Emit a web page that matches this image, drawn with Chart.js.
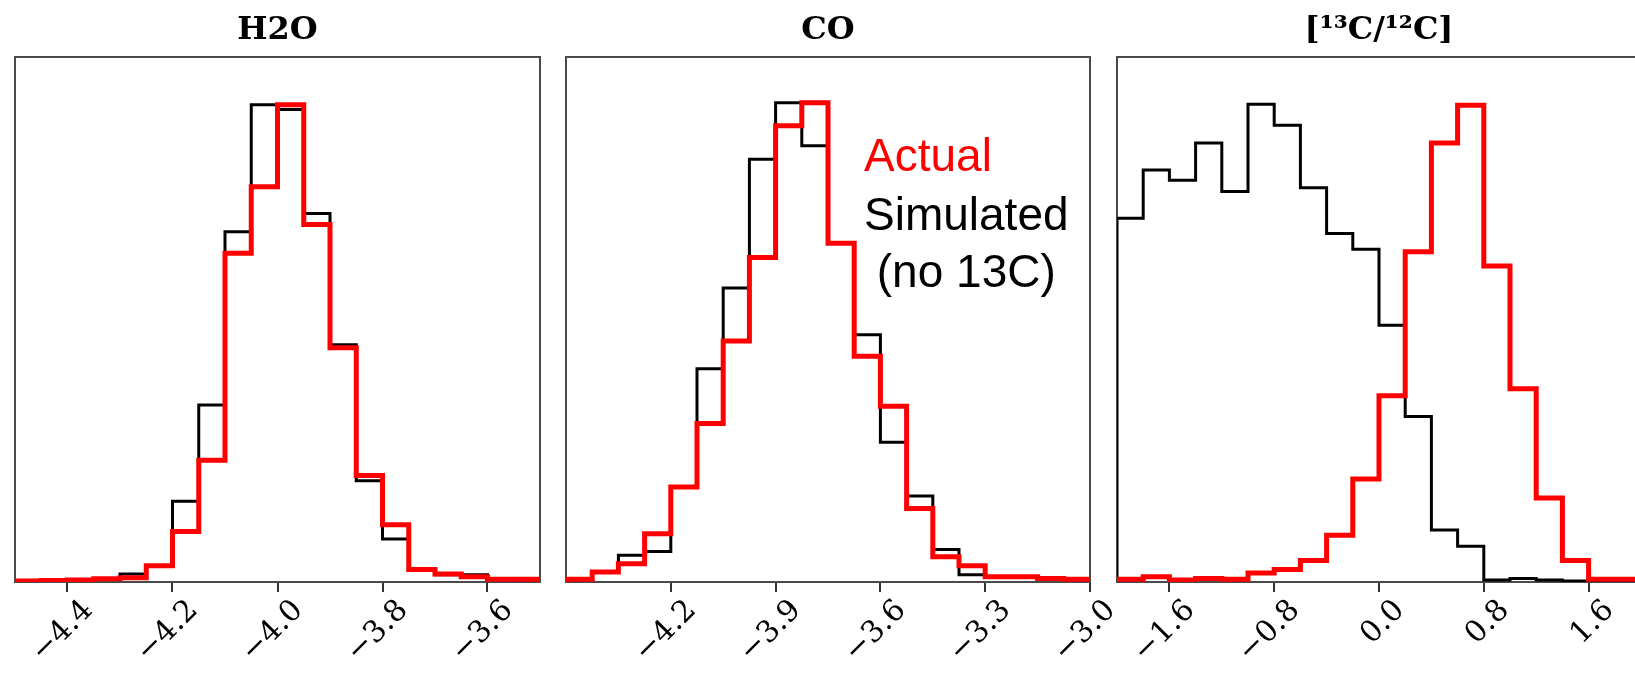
<!DOCTYPE html>
<html><head><meta charset="utf-8">
<script src="https://cdn.jsdelivr.net/npm/chart.js@4"></script>
<style>
html,body{margin:0;padding:0;background:#fff;overflow:hidden;width:1635px;height:679px;position:relative;}
canvas{position:absolute;top:0;}
</style></head><body>
<canvas id="c1" width="580" height="679" style="left:0px"></canvas>
<canvas id="c2" width="600" height="679" style="left:540px"></canvas>
<canvas id="c3" width="560" height="679" style="left:1090px"></canvas>
<script>
// ---- Panel titles ----
const panelTitles = ['H2O', 'CO', '[\u00B9\u00B3C/\u00B9\u00B2C]'];

// ---- H2O panel ----
const h2oEdges = [-4.5, -4.45, -4.4, -4.35, -4.3, -4.25, -4.2, -4.15, -4.1, -4.05, -4.0, -3.95, -3.9, -3.85, -3.8, -3.75, -3.7, -3.65, -3.6, -3.55, -3.5];
const h2oActual    = [0.2, 0.3, 0.4, 0.7, 0.9, 3.4, 10.6, 25.5, 68.9, 82.8, 100, 74.9, 49.1, 22.3, 12.0, 2.6, 1.7, 1.1, 0.6, 0.6];
const h2oSimulated = [0.2, 0.3, 0.4, 0.7, 1.7, 3.4, 16.9, 37.1, 73.4, 100, 99, 77.2, 49.7, 21.2, 9.0, 2.6, 1.5, 1.5, 0.6, 0.4];
const h2oTicks = [-4.4, -4.2, -4.0, -3.8, -3.6];
const h2oTickLabels = ['\u22124.4', '\u22124.2', '\u22124.0', '\u22123.8', '\u22123.6'];

// ---- CO panel ----
const coEdges = [-4.5, -4.425, -4.35, -4.275, -4.2, -4.125, -4.05, -3.975, -3.9, -3.825, -3.75, -3.675, -3.6, -3.525, -3.45, -3.375, -3.3, -3.225, -3.15, -3.075, -3.0];
const coActual    = [0.6, 2.1, 3.8, 10.1, 19.9, 33.2, 50.5, 68.0, 95.6, 100.4, 71.0, 47.3, 36.8, 15.4, 5.3, 3.4, 1.1, 1.1, 0.75, 0.6];
const coSimulated = [0.6, 2.1, 5.6, 6.4, 19.9, 44.7, 61.6, 88.6, 100.4, 91.4, 71.0, 51.8, 29.3, 18.0, 6.8, 1.5, 1.1, 1.1, 0.75, 0.6];
const coTicks = [-4.2, -3.9, -3.6, -3.3, -3.0];
const coTickLabels = ['\u22124.2', '\u22123.9', '\u22123.6', '\u22123.3', '\u22123.0'];

// ---- 13C/12C panel ----
const cEdges = [-2.0, -1.8, -1.6, -1.4, -1.2, -1.0, -0.8, -0.6, -0.4, -0.2, 0.0, 0.2, 0.4, 0.6, 0.8, 1.0, 1.2, 1.4, 1.6, 1.8, 2.0];
const cActual    = [0.6, 1.1, 0.4, 0.75, 0.6, 1.9, 2.6, 4.5, 9.8, 21.6, 39.0, 69.2, 92.0, 99.9, 66.2, 40.5, 17.6, 4.5, 0.6, 0.6];
const cSimulated = [76.2, 86.3, 84.2, 92.0, 81.8, 100.1, 95.7, 82.6, 73.0, 69.7, 53.8, 34.7, 10.9, 7.5, 0.4, 0.75, 0.4, 0.2, 0.2, 0.2];
const cTicks = [-1.6, -0.8, 0.0, 0.8, 1.6];
const cTickLabels = ['\u22121.6', '\u22120.8', '0.0', '0.8', '1.6'];

const yMax = 110;

const legendLines = [
  {text: 'Actual', color: '#ff0000'},
  {text: 'Simulated', color: '#000000'},
  {text: ' (no 13C)', color: '#000000'}
];

function stepPoints(edges, values) {
  const pts = [{x: edges[0], y: 0}];
  values.forEach((v, i) => pts.push({x: edges[i], y: v}));
  pts.push({x: edges[edges.length - 1], y: 0});
  return pts;
}

const framePlugin = {
  id: 'frame',
  beforeDatasetsDraw(chart) {
    const {ctx, chartArea: {left, top, right, bottom}} = chart;
    ctx.save();
    ctx.strokeStyle = '#4a4a4a';
    ctx.lineWidth = 2;
    ctx.strokeRect(left, top, right - left, bottom - top);
    ctx.restore();
  }
};

const legendPlugin = {
  id: 'textLegend',
  afterDatasetsDraw(chart) {
    const {ctx, chartArea: {left, top}} = chart;
    ctx.save();
    ctx.font = '46px "Liberation Sans", Arial, sans-serif';
    ctx.textAlign = 'left';
    ctx.textBaseline = 'alphabetic';
    const x0 = left + 298;
    const baselines = [114, 173, 230];
    legendLines.forEach((l, i) => {
      ctx.fillStyle = l.color;
      ctx.fillText(l.text, x0, top + baselines[i]);
    });
    ctx.restore();
  }
};

function makeChart(id, title, edges, actual, simulated, ticks, tickLabels, padL, padR, extraPlugins) {
  return new Chart(document.getElementById(id), {
    type: 'line',
    data: {
      datasets: [
        {label: 'Actual', data: stepPoints(edges, actual), borderColor: '#ff0000', borderWidth: 5},
        {label: 'Simulated', data: stepPoints(edges, simulated), borderColor: '#000000', borderWidth: 3}
      ]
    },
    options: {
      responsive: false,
      animation: false,
      events: [],
      datasets: {line: {stepped: 'before', pointRadius: 0, fill: false, tension: 0, borderJoinStyle: 'miter', borderCapStyle: 'butt'}},
      layout: {padding: {left: padL, right: padR, top: 0, bottom: 0}},
      plugins: {
        legend: {display: false},
        tooltip: {enabled: false},
        title: {
          display: true,
          text: title,
          color: '#000',
          font: {family: '"DejaVu Serif", serif', size: 32, weight: 'bold', lineHeight: 1},
          padding: {top: 15, bottom: 10}
        }
      },
      scales: {
        x: {
          type: 'linear',
          min: edges[0],
          max: edges[edges.length - 1],
          afterBuildTicks: s => { s.ticks = ticks.map(v => ({value: v})); },
          afterFit: s => { s.height = 97; s.paddingLeft = 0; s.paddingRight = 0; },
          ticks: {
            autoSkip: false,
            minRotation: 45,
            maxRotation: 45,
            callback: (v, i) => tickLabels[i],
            color: '#000',
            font: {family: '"DejaVu Serif", serif', size: 30},
            labelOffset: 21,
            padding: 1
          },
          grid: {drawOnChartArea: false, drawTicks: true, tickLength: 10, color: '#333', lineWidth: 2},
          border: {display: false}
        },
        y: {
          display: false,
          min: 0,
          max: yMax
        }
      }
    },
    plugins: [framePlugin].concat(extraPlugins || [])
  });
}

makeChart('c1', panelTitles[0], h2oEdges, h2oActual, h2oSimulated, h2oTicks, h2oTickLabels, 15, 40);
makeChart('c2', panelTitles[1], coEdges, coActual, coSimulated, coTicks, coTickLabels, 26, 50, [legendPlugin]);
makeChart('c3', panelTitles[2], cEdges, cActual, cSimulated, cTicks, cTickLabels, 27, 9);
</script>
</body></html>
